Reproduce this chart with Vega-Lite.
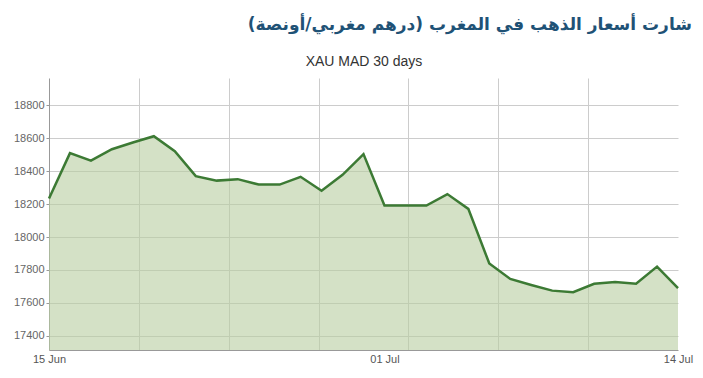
{
  "$schema": "https://vega.github.io/schema/vega-lite/v6.json",
  "width": 629,
  "height": 272,
  "autosize": {"type": "none"},
  "padding": {"left": 49, "top": 78, "right": 25, "bottom": 28},
  "background": "#ffffff",
  "title": {
    "text": "شارت أسعار الذهب في المغرب (درهم مغربي/أونصة)",
    "anchor": "end",
    "frame": "group",
    "font": "DejaVu Sans",
    "fontSize": 17,
    "fontWeight": "bold",
    "color": "#1f5276",
    "dx": 14,
    "offset": 20
  },
  "data": {
    "values": [
      {"date": "2025-06-15", "price": 18234},
      {"date": "2025-06-16", "price": 18510},
      {"date": "2025-06-17", "price": 18465},
      {"date": "2025-06-18", "price": 18534},
      {"date": "2025-06-19", "price": 18575},
      {"date": "2025-06-20", "price": 18613},
      {"date": "2025-06-21", "price": 18522},
      {"date": "2025-06-22", "price": 18370},
      {"date": "2025-06-23", "price": 18343},
      {"date": "2025-06-24", "price": 18352},
      {"date": "2025-06-25", "price": 18319},
      {"date": "2025-06-26", "price": 18319},
      {"date": "2025-06-27", "price": 18366},
      {"date": "2025-06-28", "price": 18281},
      {"date": "2025-06-29", "price": 18378},
      {"date": "2025-06-30", "price": 18504},
      {"date": "2025-07-01", "price": 18192},
      {"date": "2025-07-02", "price": 18191},
      {"date": "2025-07-03", "price": 18191},
      {"date": "2025-07-04", "price": 18261},
      {"date": "2025-07-05", "price": 18171},
      {"date": "2025-07-06", "price": 17839},
      {"date": "2025-07-07", "price": 17745},
      {"date": "2025-07-08", "price": 17708},
      {"date": "2025-07-09", "price": 17674},
      {"date": "2025-07-10", "price": 17664},
      {"date": "2025-07-11", "price": 17716},
      {"date": "2025-07-12", "price": 17727},
      {"date": "2025-07-13", "price": 17716},
      {"date": "2025-07-14", "price": 17820},
      {"date": "2025-07-15", "price": 17689}
    ]
  },
  "encoding": {
    "y": {
      "field": "price",
      "type": "quantitative",
      "scale": {"domain": [17313, 18967], "nice": false, "zero": false},
      "axis": {
        "values": [17400, 17600, 17800, 18000, 18200, 18400, 18600, 18800],
        "format": "d",
        "labelOverlap": false,
        "grid": true,
        "gridColor": "#cccccc",
        "domain": true,
        "domainColor": "#999999",
        "ticks": true,
        "tickSize": 3,
        "tickColor": "#999999",
        "labelFont": "Liberation Sans",
        "labelFontSize": 11,
        "labelColor": "#666666",
        "labelPadding": 2,
        "title": null
      }
    }
  },
  "layer": [
    {
      "mark": {"type": "area", "color": "#b7cda0", "opacity": 0.6},
      "encoding": {
        "x": {
          "field": "date",
          "type": "temporal",
          "scale": {"type": "utc", "domain": [1749945600000, 1752537600000], "nice": false},
          "axis": {
            "orient": "top",
            "values": [1750315885714, 1750686171429, 1751056457143, 1751426742857, 1751797028571, 1752167314286],
            "grid": true,
            "gridColor": "#cccccc",
            "gridWidth": 1,
            "labels": false,
            "ticks": false,
            "domain": false,
            "title": "XAU MAD 30 days",
            "titleFont": "Liberation Sans",
            "titleFontSize": 14,
            "titleFontWeight": "normal",
            "titleColor": "#333333",
            "titlePadding": 10
          }
        },
        "y2": {"datum": 17313}
      }
    },
    {
      "mark": {"type": "line", "color": "#3c7a34", "strokeWidth": 2.5},
      "encoding": {
        "x": {
          "field": "date",
          "type": "temporal",
          "axis": {
            "orient": "bottom",
            "values": [1749945600000, 1751328000000, 1752537600000],
            "labelExpr": "utcFormat(datum.value > 1752400000000 ? datum.value - 86400000 : datum.value, '%d %b')",
            "grid": false,
            "ticks": false,
            "domain": true,
            "domainColor": "#999999",
            "labelFont": "Liberation Sans",
            "labelFontSize": 11,
            "labelColor": "#555555",
            "labelPadding": 3,
            "labelFlush": false,
            "labelBound": false,
            "labelOverlap": false,
            "title": null
          }
        }
      }
    }
  ],
  "resolve": {"axis": {"x": "independent"}},
  "config": {"view": {"stroke": null}}
}
